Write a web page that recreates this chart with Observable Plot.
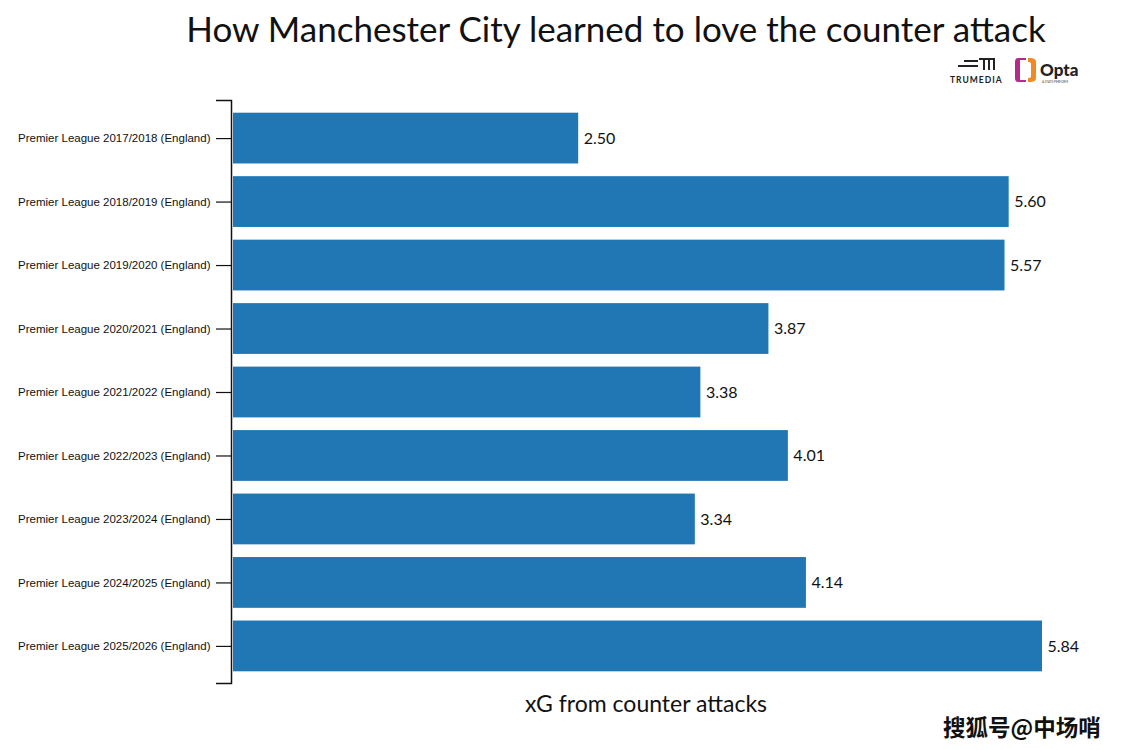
<!DOCTYPE html>
<html>
<head>
<meta charset="utf-8">
<script src="https://cdn.jsdelivr.net/npm/d3@7"></script>
<script src="https://cdn.jsdelivr.net/npm/@observablehq/plot@0.6"></script>
<style>
  body { margin: 0; background: #fff; width: 1125px; height: 750px; position: relative; overflow: hidden; }
  #title { position: absolute; top: 7px; left: 0; width: 1232px; text-align: center; font-family: Lato, sans-serif; font-size: 35px; color: #111; }
  #logos { position: absolute; top: 56px; left: 948px; }
  #chart { position: absolute; top: 90px; left: 0; }
  #xlabel { position: absolute; top: 689px; left: 0; width: 1292px; text-align: center; font-family: Lato, sans-serif; font-size: 23px; color: #111; }
  #wm { position: absolute; top: 710px; left: 943px; font-family: "Noto Sans CJK SC", sans-serif; font-size: 22.5px; font-weight: 700; color: #111; letter-spacing: 0px;
        text-shadow: 0 0 2px #fff, 0 0 2px #fff; }
</style>
</head>
<body>
<div id="title">How Manchester City learned to love the counter attack</div>
<div id="logos">
  <svg width="150" height="32" viewBox="0 0 150 32">
    <g fill="#222">
      <rect x="16" y="4" width="14" height="2"/>
      <rect x="10" y="9" width="20" height="2"/>
      <rect x="31" y="2" width="16" height="2"/>
      <rect x="35" y="2" width="2" height="12"/>
      <rect x="40" y="2" width="2" height="12"/>
      <rect x="45" y="2" width="2" height="12"/>
      <text x="2" y="27" font-family="Lato, sans-serif" font-weight="700" font-size="8.5" letter-spacing="1">TRUMEDIA</text>
    </g>
    <path d="M72,4 h6 v-2 h-8 q-3,0 -3,4 v16 q0,4 3,4 h8 v-2 h-6 z" fill="#b62a8c"/>
    <path d="M80,2 h2 q6,0 6,4 v16 q0,4 -6,4 h-2 v-4 h1 q2,0 2,-2 v-12 q0,-2 -2,-2 h-1 z" fill="#f08a24"/>
    <text x="92" y="20" font-family="Lato, sans-serif" font-weight="900" font-size="17" fill="#222">Opta</text>
    <text x="94" y="27" font-family="Lato, sans-serif" font-size="3" fill="#444">A STATS PERFORM</text>
  </svg>
</div>
<div id="chart"></div>
<div id="xlabel">xG from counter attacks</div>
<div id="wm">搜狐号@中场哨</div>
<script>
const seasons = [
  "Premier League 2017/2018 (England)",
  "Premier League 2018/2019 (England)",
  "Premier League 2019/2020 (England)",
  "Premier League 2020/2021 (England)",
  "Premier League 2021/2022 (England)",
  "Premier League 2022/2023 (England)",
  "Premier League 2023/2024 (England)",
  "Premier League 2024/2025 (England)",
  "Premier League 2025/2026 (England)"
];
const xgValues = [2.50, 5.60, 5.57, 3.87, 3.38, 4.01, 3.34, 4.14, 5.84];

const data = seasons.map((s, i) => ({season: s, xg: xgValues[i]}));

const domainPath = (index, scales, values, dims) => {
  const x0 = dims.marginLeft, y0 = dims.marginTop, y1 = dims.height - dims.marginBottom;
  return d3.create("svg:path")
    .attr("d", `M${x0 - 15},${y0 + 0.5}H${x0 + 0.5}V${y1 - 0.5}H${x0 - 15}`)
    .attr("fill", "none").attr("stroke", "#111").attr("stroke-width", 1.5).node();
};

const plot = Plot.plot({
  width: 1125,
  height: 610,
  marginTop: 10,
  marginBottom: 16,
  marginLeft: 231,
  marginRight: 83,
  x: {domain: [0, 5.84], axis: null},
  y: {domain: seasons, padding: 0.2, round: false, label: null},
  style: {fontFamily: "'Liberation Sans', Arial, sans-serif", fontSize: "11.5px", color: "#111", background: "white"},
  marks: [
    Plot.barX(data, {y: "season", x: "xg", fill: "#2077b4", insetLeft: 2}),
    Plot.text(data, {y: "season", x: "xg", text: d => d.xg.toFixed(2), textAnchor: "start", dx: 5,
      fontSize: 16, fontFamily: "Lato, sans-serif", fill: "#111"}),
    Plot.axisY({tickSize: 15, tickPadding: 6, label: null, fontSize: 11.5, stroke: "#111", strokeWidth: 1.2}),
    domainPath
  ]
});
document.getElementById("chart").appendChild(plot);
</script>
</body>
</html>
